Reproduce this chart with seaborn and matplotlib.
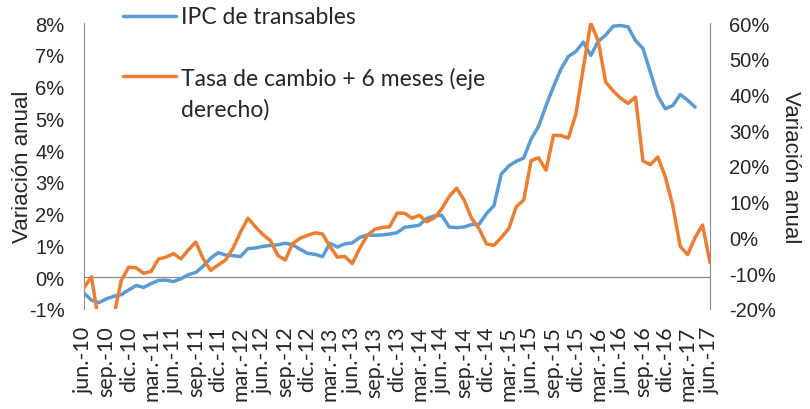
import numpy as np
import matplotlib
matplotlib.use("Agg")
import matplotlib.pyplot as plt
import seaborn as sns
from matplotlib.ticker import FuncFormatter

# Quarterly tick labels (monthly data from jun.-10 to jun.-17)
tick_labels = ["jun.-10", "sep.-10", "dic.-10",
               "mar.-11", "jun.-11", "sep.-11", "dic.-11",
               "mar.-12", "jun.-12", "sep.-12", "dic.-12",
               "mar.-13", "jun.-13", "sep.-13", "dic.-13",
               "mar.-14", "jun.-14", "sep.-14", "dic.-14",
               "mar.-15", "jun.-15", "sep.-15", "dic.-15",
               "mar.-16", "jun.-16", "sep.-16", "dic.-16",
               "mar.-17", "jun.-17"]

# IPC de transables, variacion anual (%), jun.-10 .. abr.-17
ipc = [-0.50, -0.72, -0.80, -0.68, -0.60, -0.55, -0.40, -0.26, -0.32, -0.20,
       -0.10, -0.09, -0.14, -0.05, 0.08, 0.15, 0.35, 0.60, 0.77, 0.70,
       0.68, 0.65, 0.90, 0.92, 0.97, 1.00, 1.02, 1.07, 1.02, 0.88,
       0.75, 0.72, 0.65, 1.07, 0.95, 1.05, 1.08, 1.25, 1.33, 1.32,
       1.33, 1.36, 1.40, 1.57, 1.60, 1.64, 1.85, 1.93, 1.95, 1.58,
       1.56, 1.58, 1.66, 1.66, 2.00, 2.25, 3.25, 3.50, 3.65, 3.75,
       4.35, 4.75, 5.40, 6.00, 6.55, 6.95, 7.10, 7.40, 6.98, 7.42,
       7.62, 7.90, 7.92, 7.88, 7.45, 7.20, 6.45, 5.70, 5.30, 5.40,
       5.75, 5.57, 5.35]

# Tasa de cambio adelantada 6 meses, variacion anual (%), jun.-10 .. jun.-17
tasa = [-14.0, -11.0, -24.0, -26.0, -22.0, -12.0, -8.3, -8.5, -10.0, -9.5,
        -6.0, -5.5, -4.5, -6.0, -3.5, -1.3, -6.0, -9.2, -7.7, -6.3,
        -3.0, 1.5, 5.4, 3.0, 0.8, -0.8, -5.0, -6.3, -1.7, -0.2,
        0.6, 1.3, 1.0, -2.5, -5.5, -5.3, -7.3, -3.0, 0.5, 2.3,
        2.8, 3.0, 6.8, 6.8, 5.4, 6.2, 4.4, 5.5, 8.0, 11.5,
        13.8, 10.5, 5.4, 2.5, -1.8, -2.2, 0.0, 2.5, 8.6, 10.5,
        21.5, 22.3, 18.8, 28.6, 28.5, 27.8, 34.5, 47.5, 60.0, 55.0,
        43.5, 41.0, 39.0, 37.5, 39.3, 21.4, 20.4, 22.5, 17.0, 9.0,
        -2.5, -4.8, 0.0, 3.5, -7.0]

sns.set_style("white")
plt.rcParams["font.family"] = ["Lato", "DejaVu Sans"]

blue = "#5B9BD5"
orange = "#ED7D31"
grey = "#8C8C8C"
arial = ["Liberation Sans", "DejaVu Sans"]

fig = plt.figure(figsize=(8.1, 4.1), dpi=100)
ax = fig.add_axes([84 / 810, 1 - 310 / 410, 626 / 810, 286 / 410])

sns.lineplot(x=np.arange(len(ipc)), y=ipc, ax=ax, color=blue,
             linewidth=2.5, label="IPC de transables")
ax.axhline(0, color=grey, linewidth=0.9, zorder=0)

ax2 = ax.twinx()
sns.lineplot(x=np.arange(len(tasa)), y=tasa, ax=ax2, color=orange,
             linewidth=2.5, label="Tasa de cambio + 6 meses (eje\nderecho)")

ax.set_xlim(0, len(tasa) - 1)
ax.set_ylim(-1, 8)
ax2.set_ylim(-20, 60)
ax.set_yticks(range(-1, 9))
ax2.set_yticks(range(-20, 61, 10))
ax.yaxis.set_major_formatter(FuncFormatter(lambda v, p: f"{v:.0f}%"))
ax2.yaxis.set_major_formatter(FuncFormatter(lambda v, p: f"{v:.0f}%"))

ax.set_xticks(np.arange(0, len(tasa), 3))
ax.set_xticklabels(tick_labels, rotation=90, fontsize=15.5)
ax.tick_params(axis="x", length=0, pad=12)
ax.tick_params(axis="y", length=0, pad=14)
ax2.tick_params(axis="y", length=0, pad=14)
for lab in ax.get_yticklabels() + ax2.get_yticklabels():
    lab.set_family(arial)
    lab.set_fontsize(14.5)

ax.set_xlabel("")
ax.set_ylabel("Variación anual", fontsize=16, family=arial, labelpad=-3)
ax2.set_ylabel("Variación anual", fontsize=16, family=arial,
               rotation=-90, labelpad=18)

for a in (ax, ax2):
    a.spines["top"].set_visible(False)
    a.spines["bottom"].set_visible(False)
ax.spines["right"].set_visible(False)
ax2.spines["left"].set_visible(False)
ax.spines["left"].set_color(grey)
ax2.spines["right"].set_color(grey)

h1, l1 = ax.get_legend_handles_labels()
h2, l2 = ax2.get_legend_handles_labels()
ax.get_legend().remove()
ax2.get_legend().remove()
leg = fig.legend(h1 + h2, l1 + l2, loc="upper left",
                 bbox_to_anchor=(123 / 810, 1 - 7 / 410), frameon=False,
                 fontsize=16.5, handlelength=2.3, handletextpad=0.22,
                 handleheight=1.15, labelspacing=1.65, borderpad=0,
                 borderaxespad=0)
for t in leg.get_texts():
    t.set_linespacing(1.55)
# put the line sample level with the first line of each label
for col in leg._legend_handle_box.get_children():
    for row in col.get_children():
        row.align = "top"

fig.savefig("out.png", dpi=100)
